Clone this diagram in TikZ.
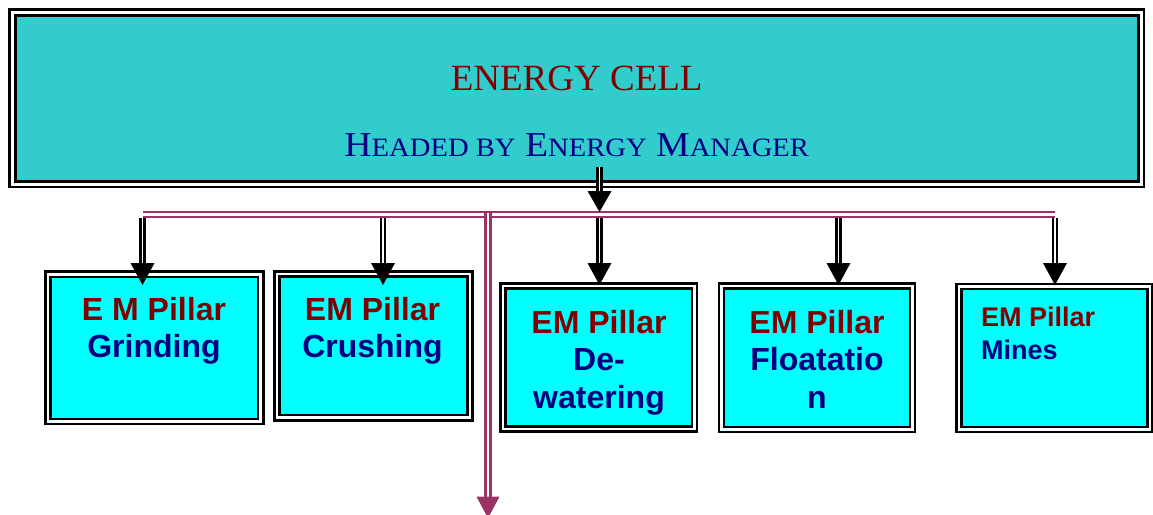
\documentclass[tikz,border=0pt]{standalone}
\usepackage{fontspec}
\setsansfont{Liberation Sans}
\newfontfamily\titlefont{Liberation Serif}
\usepackage{graphicx}
\definecolor{dred}{HTML}{800000}
\definecolor{navyc}{HTML}{000080}
\definecolor{tealf}{HTML}{33CCCC}
\definecolor{cyanf}{HTML}{00FFFF}
\definecolor{magc}{HTML}{993366}
\newcommand\BigCap[1]{{\fontsize{35}{35}\selectfont #1}}
\newcommand\SmCap[1]{{\fontsize{26.5}{26.5}\selectfont #1}}
\setlength{\tabcolsep}{0pt}
\begin{document}
\begin{tikzpicture}[x=1pt,y=-1pt,
  mainbox/.style={draw=black, line width=2.7pt, double=white, double distance=3pt, fill=tealf, inner sep=0pt, outer sep=0pt},
  pillar/.style={draw=black, line width=2.7pt, double=white, double distance=2.5pt, fill=cyanf, inner sep=0pt, outer sep=0pt},
  ptext/.style={inner sep=0pt, anchor=base, font=\sffamily\bfseries\fontsize{32}{37.5}\selectfont},
  mtext/.style={inner sep=0pt, anchor=base west, font=\sffamily\bfseries\fontsize{27}{32.6}\selectfont},
  blk/.style={draw=black, line width=2.5pt, double=white, double distance=1.6pt},
  tipblk/.style={fill=black},
  magline/.style={draw=magc, line width=2.4pt, double=white, double distance=3pt},
  tipmag/.style={fill=magc},
]
\useasboundingbox (0,0) rectangle (1153,514);

% main box
\node[mainbox, minimum width=1128.6pt, minimum height=171.85pt] (main) at (576.7,98.3) {};
\node[inner sep=0pt, anchor=base, text=dred, font=\titlefont\fontsize{37}{40}\selectfont] (title) at (576.7,90.7) {ENERGY CELL};
\node[inner sep=0pt, anchor=base, text=navyc, font=\titlefont\fontsize{35}{35}\selectfont] (subtitle) at (576.7,156)
  {\scalebox{1.08}[1]{\BigCap{H}\SmCap{EADED BY} \BigCap{E}\SmCap{NERGY} \BigCap{M}\SmCap{ANAGER}}};

% bus and down arrow
\coordinate (busL) at (143,214.5);
\coordinate (busR) at (1055,214.5);
\draw[magline] (busL) -- (busR);
\coordinate (v0) at (488,212.7);
\coordinate (v1) at (488,518);
\draw[magline, line width=2.7pt, double distance=2.5pt] (v0) -- ([yshift=16pt]v1);
\fill[tipmag] (v1) -- ++(-11.5,-21.3) -- ++(23,0) -- cycle;

% pillar boxes
\node[pillar, minimum width=212.9pt, minimum height=147.25pt] (p1) at (154.2,347.9) {};
\node[pillar, minimum width=193.15pt, minimum height=143.6pt] (p2) at (373.4,345.8) {};
\node[pillar, minimum width=191.5pt, minimum height=143pt] (p3) at (598.75,357.5) {};
\node[pillar, minimum width=191pt, minimum height=143.5pt] (p4) at (817,357.75) {};
\node[pillar, minimum width=191.1pt, minimum height=143pt] (p5) at (1054.45,358) {};

% pillar texts
\node[ptext] (l1) at (154,320) {\begin{tabular}[t]{c}\color{dred}E M Pillar\\\color{navyc}Grinding\end{tabular}};
\node[ptext] (l2) at (372.5,320) {\begin{tabular}[t]{c}\color{dred}EM Pillar\\\color{navyc}Crushing\end{tabular}};
\node[ptext] (l3) at (599,333.3) {\begin{tabular}[t]{c}\color{dred}EM Pillar\\\color{navyc}De-\\\color{navyc}watering\end{tabular}};
\node[ptext] (l4) at (817,333.3) {\begin{tabular}[t]{c}\color{dred}EM Pillar\\\color{navyc}Floatatio\\\color{navyc}n\end{tabular}};
\node[mtext] (l5) at (981,326.7) {\begin{tabular}[t]{l}\color{dred}EM Pillar\\\color{navyc}Mines\end{tabular}};

% main arrow
\coordinate (m0) at (599.5,167);
\coordinate (m1) at (599.5,212);
\draw[blk, line width=2.7pt, double distance=1.4pt] (m0) -- ([yshift=17pt]m1);
\fill[tipblk] (m1) -- ++(-12,-21) -- ++(24,0) -- cycle;

% branch arrows
\foreach \i/\x in {1/142.5, 2/383, 3/599.5, 4/838.5, 5/1055}{
  \coordinate (a\i) at (\x,218);
  \coordinate (b\i) at (\x,285);
  \draw[blk] (a\i) -- ([yshift=18pt]b\i);
  \fill[tipblk] (b\i) -- ++(-12,-22) -- ++(24,0) -- cycle;
}
\end{tikzpicture}
\end{document}
